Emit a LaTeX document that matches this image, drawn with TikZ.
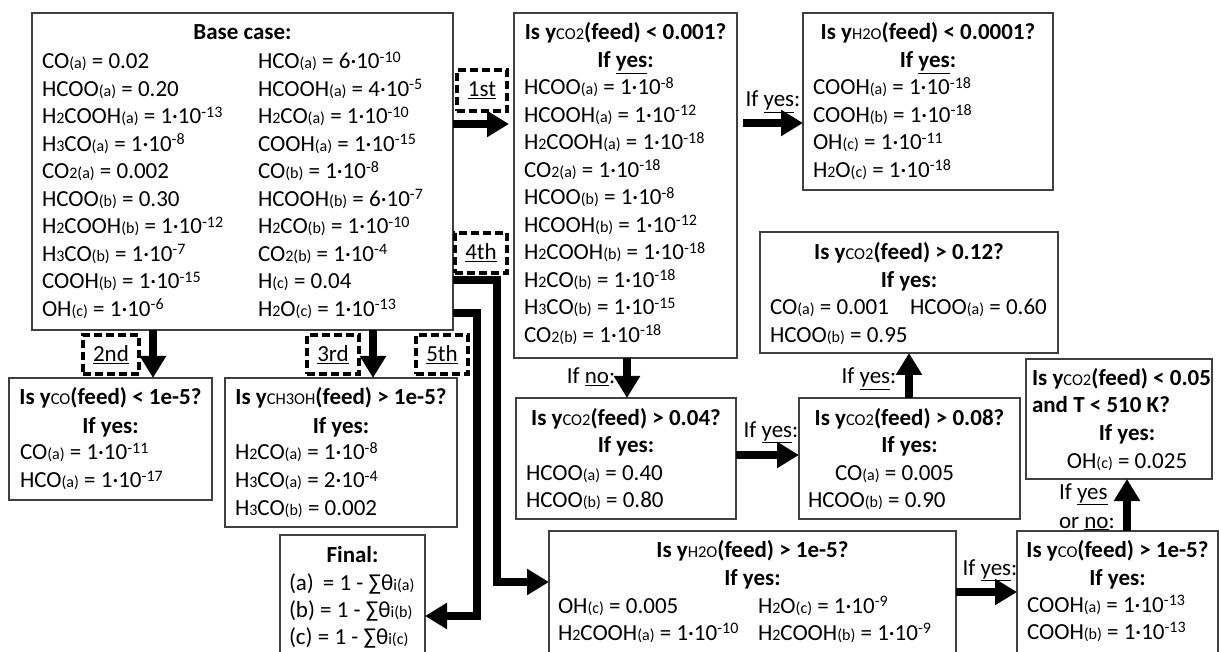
\documentclass[tikz,border=0pt]{standalone}
\usepackage{fontspec}
\setmainfont{Carlito}
\usetikzlibrary{arrows.meta}
\newcommand{\mysub}[1]{{\fontsize{16}{16}\selectfont #1}}
\newcommand{\mytsub}[1]{{\mdseries\fontsize{16.5}{16.5}\selectfont #1}}
\newcommand{\mysup}[1]{\raisebox{6.5pt}{\fontsize{16}{16}\selectfont #1}}
\newcommand{\myten}[2]{#1·10\mysup{#2}}
\newcommand{\rowL}[4]{\node[txt,anchor=base west] (#1) at (#2,{#3+7}) {#4};}
\newcommand{\rowC}[4]{\node[txt,anchor=base] (#1) at (#2,{#3+7}) {#4};}
\newcommand{\boxN}[5]{\node[box,anchor=north west,minimum width={(#4-#2)*1pt},minimum height={(#5-#3)*1pt}] (#1) at (#2,#3) {};}
\newcommand{\tagN}[6]{\node[tag,anchor=north west,minimum width={(#4-#2)*1pt},minimum height={(#5-#3)*1pt}] (#1) at (#2,#3) {\underline{#6}};}
\tikzset{
  box/.style={draw=black!75, line width=1.3pt, rectangle, inner sep=0pt, outer sep=0pt},
  tag/.style={draw=black, line width=3.3pt, dash pattern=on 8pt off 4pt, inner sep=0pt, outer sep=0pt, font=\fontsize{23}{27.5}\selectfont},
  arr/.style={line width=8pt, -{Triangle[width=25pt,length=22pt]}, line join=miter},
  txt/.style={inner sep=0pt, outer sep=0pt, font=\fontsize{23}{27.5}\selectfont},
}
\begin{document}
\begin{tikzpicture}[x=1pt,y=-1pt]
\useasboundingbox[fill=white] (0,0) rectangle (1219,652);
% ---------- boxes ----------
\boxN{base}{32}{13}{453}{330}
\boxN{qa}{514}{13}{737}{358}
\boxN{qb}{803}{13}{1053}{190}
\boxN{qc}{760}{232}{1058}{353}
\boxN{qd}{516}{398}{736}{519}
\boxN{qe}{799}{398}{1020}{519}
\boxN{qf}{1026}{359}{1212}{479}
\boxN{qg}{9}{378}{212}{500}
\boxN{qh}{225}{378}{457}{527}
\boxN{fin}{280}{535}{425}{656}
\boxN{qi}{549}{531}{956}{656}
\boxN{qj}{1017}{531}{1218}{656}
% ---------- base case ----------
\rowC{bt}{242.5}{33}{\bfseries Base case:}
\rowL{b1}{42}{62}{CO\mysub{(a)} = 0.02}
\rowL{b2}{42}{89.5}{HCOO\mysub{(a)} = 0.20}
\rowL{b3}{42}{117}{H\mysub{2}COOH\mysub{(a)} = \myten{1}{-13}}
\rowL{b4}{42}{144.5}{H\mysub{3}CO\mysub{(a)} = \myten{1}{-8}}
\rowL{b5}{42}{172}{CO\mysub{2(a)} = 0.002}
\rowL{b6}{42}{199.5}{HCOO\mysub{(b)} = 0.30}
\rowL{b7}{42}{227}{H\mysub{2}COOH\mysub{(b)} = \myten{1}{-12}}
\rowL{b8}{42}{254.5}{H\mysub{3}CO\mysub{(b)} = \myten{1}{-7}}
\rowL{b9}{42}{282}{COOH\mysub{(b)} = \myten{1}{-15}}
\rowL{b10}{42}{309.5}{OH\mysub{(c)} = \myten{1}{-6}}
\rowL{c1}{258}{62}{HCO\mysub{(a)} = \myten{6}{-10}}
\rowL{c2}{258}{89.5}{HCOOH\mysub{(a)} = \myten{4}{-5}}
\rowL{c3}{258}{117}{H\mysub{2}CO\mysub{(a)} = \myten{1}{-10}}
\rowL{c4}{258}{144.5}{COOH\mysub{(a)} = \myten{1}{-15}}
\rowL{c5}{258}{172}{CO\mysub{(b)} = \myten{1}{-8}}
\rowL{c6}{258}{199.5}{HCOOH\mysub{(b)} = \myten{6}{-7}}
\rowL{c7}{258}{227}{H\mysub{2}CO\mysub{(b)} = \myten{1}{-10}}
\rowL{c8}{258}{254.5}{CO\mysub{2(b)} = \myten{1}{-4}}
\rowL{c9}{258}{282}{H\mysub{(c)} = 0.04}
\rowL{c10}{258}{309.5}{H\mysub{2}O\mysub{(c)} = \myten{1}{-13}}
% ---------- 1st question ----------
\rowC{qat}{625.5}{33}{\bfseries Is y\mytsub{CO2}(feed) < 0.001?}
\rowC{qay}{625.5}{61}{\bfseries If \underline{yes}:}
\rowL{a1}{524}{88}{HCOO\mysub{(a)} = \myten{1}{-8}}
\rowL{a2}{524}{115.5}{HCOOH\mysub{(a)} = \myten{1}{-12}}
\rowL{a3}{524}{143}{H\mysub{2}COOH\mysub{(a)} = \myten{1}{-18}}
\rowL{a4}{524}{170.5}{CO\mysub{2(a)} = \myten{1}{-18}}
\rowL{a5}{524}{198}{HCOO\mysub{(b)} = \myten{1}{-8}}
\rowL{a6}{524}{225.5}{HCOOH\mysub{(b)} = \myten{1}{-12}}
\rowL{a7}{524}{253}{H\mysub{2}COOH\mysub{(b)} = \myten{1}{-18}}
\rowL{a8}{524}{280.5}{H\mysub{2}CO\mysub{(b)} = \myten{1}{-18}}
\rowL{a9}{524}{308}{H\mysub{3}CO\mysub{(b)} = \myten{1}{-15}}
\rowL{a10}{524}{335.5}{CO\mysub{2(b)} = \myten{1}{-18}}
% ---------- H2O < 0.0001 ----------
\rowC{qbt}{928}{33}{\bfseries Is y\mytsub{H2O}(feed) < 0.0001?}
\rowC{qby}{928}{61}{\bfseries If \underline{yes}:}
\rowL{h1}{813}{88}{COOH\mysub{(a)} = \myten{1}{-18}}
\rowL{h2}{813}{115.5}{COOH\mysub{(b)} = \myten{1}{-18}}
\rowL{h3}{813}{143}{OH\mysub{(c)} = \myten{1}{-11}}
\rowL{h4}{813}{170.5}{H\mysub{2}O\mysub{(c)} = \myten{1}{-18}}
% ---------- > 0.12 ----------
\rowC{qct}{909}{253}{\bfseries Is y\mytsub{CO2}(feed) > 0.12?}
\rowC{qcy}{909}{280.5}{\bfseries If yes:}
\rowL{k1}{770}{308}{CO\mysub{(a)} = 0.001}
\rowL{k2}{910}{308}{HCOO\mysub{(a)} = 0.60}
\rowL{k3}{770}{335.5}{HCOO\mysub{(b)} = 0.95}
% ---------- > 0.04 ----------
\rowC{qdt}{626}{418}{\bfseries Is y\mytsub{CO2}(feed) > 0.04?}
\rowC{qdy}{626}{446}{\bfseries If yes:}
\rowL{d1}{526}{473}{HCOO\mysub{(a)} = 0.40}
\rowL{d2}{526}{500.5}{HCOO\mysub{(b)} = 0.80}
% ---------- > 0.08 ----------
\rowC{qet}{909.5}{418}{\bfseries Is y\mytsub{CO2}(feed) > 0.08?}
\rowC{qey}{909.5}{446}{\bfseries If yes:}
\rowL{e1}{835}{473}{CO\mysub{(a)} = 0.005}
\rowL{e2}{808}{500.5}{HCOO\mysub{(b)} = 0.90}
% ---------- < 0.05 and T ----------
\rowL{qft}{1032}{378}{\bfseries Is y\mytsub{CO2}(feed) < 0.05}
\rowL{qft2}{1032}{406}{\bfseries and T < 510 K?}
\rowC{qfy}{1127}{433}{\bfseries If yes:}
\rowC{f1}{1127}{461}{OH\mysub{(c)} = 0.025}
% ---------- CO < 1e-5 ----------
\rowC{qgt}{110.5}{398}{\bfseries Is y\mytsub{CO}(feed) < 1e-5?}
\rowC{qgy}{110.5}{426}{\bfseries If yes:}
\rowL{g1}{20}{453}{CO\mysub{(a)} = \myten{1}{-11}}
\rowL{g2}{20}{480.5}{HCO\mysub{(a)} = \myten{1}{-17}}
% ---------- CH3OH ----------
\rowC{qht}{341}{398}{\bfseries Is y\mytsub{CH3OH}(feed) > 1e-5?}
\rowC{qhy}{341}{426}{\bfseries If yes:}
\rowL{m1}{235}{453}{H\mysub{2}CO\mysub{(a)} = \myten{1}{-8}}
\rowL{m2}{235}{480.5}{H\mysub{3}CO\mysub{(a)} = \myten{2}{-4}}
\rowL{m3}{235}{508}{H\mysub{3}CO\mysub{(b)} = 0.002}
% ---------- Final ----------
\rowC{fint}{352.5}{555}{\bfseries Final:}
\rowL{n1}{289}{583}{(a)\, = 1 - ∑θ\mysub{i(a)}}
\rowL{n2}{289}{610}{(b) = 1 - ∑θ\mysub{i(b)}}
\rowL{n3}{289}{637}{(c) = 1 - ∑θ\mysub{i(c)}}
% ---------- H2O > 1e-5 ----------
\rowC{qit}{752.5}{550}{\bfseries Is y\mytsub{H2O}(feed) > 1e-5?}
\rowC{qiy}{752.5}{578}{\bfseries If yes:}
\rowL{i1}{558}{606}{OH\mysub{(c)} = 0.005}
\rowL{i2}{758}{606}{H\mysub{2}O\mysub{(c)} = \myten{1}{-9}}
\rowL{i3}{558}{633}{H\mysub{2}COOH\mysub{(a)} = \myten{1}{-10}}
\rowL{i4}{758}{633}{H\mysub{2}COOH\mysub{(b)} = \myten{1}{-9}}
% ---------- CO > 1e-5 ----------
\rowC{qjt}{1117.5}{550}{\bfseries Is y\mytsub{CO}(feed) > 1e-5?}
\rowC{qjy}{1117.5}{578}{\bfseries If yes:}
\rowL{j1}{1027}{605}{COOH\mysub{(a)} = \myten{1}{-13}}
\rowL{j2}{1027}{632}{COOH\mysub{(b)} = \myten{1}{-13}}
% ---------- order tags ----------
\tagN{t1}{457}{70}{507}{111}{1st}
\tagN{t2}{83}{335}{139}{374}{2nd}
\tagN{t3}{307}{335}{359}{374}{3rd}
\tagN{t4}{455}{233}{507}{273}{4th}
\tagN{t5}{416}{335}{468}{374}{5th}
% ---------- connectors ----------
\coordinate (r1) at (0,124);
\coordinate (r4) at (0,280);
\coordinate (r5) at (0,313);
\coordinate (v4) at (497,582);
\coordinate (v5) at (477,616);
\draw[arr, shorten >=5pt] (base.east |- r1) -- (qa.west |- r1);
\draw[arr] (base.south -| 153,0) -- (qg.north -| 153,0);
\draw[arr] (base.south -| 373,0) -- (qh.north -| 373,0);
\draw[arr] (base.east |- r4) -| (v4) -- (qi.west |- v4);
\draw[arr] (base.east |- r5) -| (v5) -- (fin.east |- v5);
\draw[arr] ([xshift=6pt]qa.east |- 0,123) -- (qb.west |- 0,123);
\draw[arr] (qa.south -| 627,0) -- (qd.north -| 627,0);
\draw[arr] (qd.east |- 0,455) -- (qe.west |- 0,455);
\draw[arr] (qe.north -| 909,0) -- (qc.south -| 909,0);
\draw[arr] (qi.east |- 0,592) -- (qj.west |- 0,592);
\draw[arr] (qj.north -| 1127,0) -- (qf.south -| 1127,0);
% ---------- connector labels ----------
\rowC{l1}{773}{100}{If \underline{yes}:}
\rowC{l2}{591}{377}{If \underline{no}:}
\rowC{l3}{771}{430}{If \underline{yes}:}
\rowC{l4}{869}{377}{If \underline{yes}:}
\rowC{l5}{990}{568}{If \underline{yes}:}
\rowL{l6}{1059}{492}{If \underline{yes}}
\rowL{l7}{1059}{521}{or \underline{no}:}
\end{tikzpicture}
\end{document}
